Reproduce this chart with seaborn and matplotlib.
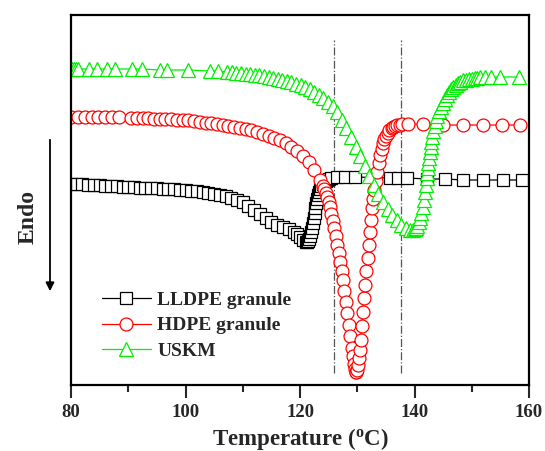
import numpy as np
import pandas as pd
import matplotlib
matplotlib.use("Agg")
import matplotlib.pyplot as plt
import seaborn as sns

# ---------------- data (heat flow, arbitrary units; endo down) ----------------
T_lldpe = [80, 81, 82, 83, 84, 85, 86, 87, 88, 89,
           90, 91, 92, 93, 94, 95, 96, 97, 98, 99,
           100, 101, 102, 103, 104, 105, 106, 107, 108, 109,
           110, 111, 112, 113, 114, 115, 116, 117, 118, 119,
           119.5, 120, 120.5, 121.0, 121.2, 121.4, 121.6, 121.8, 121.95, 122.1,
           122.25, 122.4, 122.55, 122.7, 122.85, 123.0, 123.15, 123.3, 123.5, 123.7,
           123.95, 124.2, 124.5, 124.8, 125.1, 125.5,
           126.5, 127.9, 129.6, 135.8, 137.2, 138.7, 142.2, 145.4, 148.5, 152.0, 155.5, 158.8]
HF_lldpe = [-1.84, -1.84, -1.84, -1.85, -1.85, -1.85, -1.86, -1.86, -1.86, -1.87,
            -1.87, -1.87, -1.88, -1.88, -1.88, -1.88, -1.89, -1.89, -1.89, -1.90,
            -1.90, -1.91, -1.91, -1.92, -1.93, -1.94, -1.95, -1.96, -1.98, -2.00,
            -2.02, -2.06, -2.10, -2.14, -2.18, -2.22, -2.25, -2.27, -2.29, -2.32,
            -2.34, -2.37, -2.40, -2.42, -2.42, -2.41, -2.39, -2.36, -2.32, -2.28,
            -2.23, -2.18, -2.13, -2.08, -2.03, -1.99, -1.95, -1.92, -1.89, -1.86,
            -1.84, -1.82, -1.81, -1.80, -1.79, -1.78,
            -1.77, -1.77, -1.77, -1.78, -1.78, -1.78, -1.79, -1.79, -1.80, -1.80, -1.80, -1.80]

T_hdpe = [80, 81.2, 82.4, 83.6, 84.8, 86, 87.2, 88.4,
          90.5, 91.5, 92.5, 93.5, 94.5, 95.5, 96.5, 97.5, 98.5, 99.5,
          100.5, 101.5, 102.5, 103.5, 104.5, 105.5, 106.5, 107.5, 108.5, 109.5,
          110.5, 111.5, 112.5, 113.5, 114.5, 115.5, 116.5, 117.5, 118.5, 119.5,
          120.5, 121.5, 122.5, 123.5,
          124.0, 124.25, 124.5, 124.75, 125.0, 125.25, 125.5, 125.75, 126.0, 126.25,
          126.5, 126.75, 127.0, 127.25, 127.5, 127.75, 128.0, 128.25, 128.5, 128.75,
          129.0, 129.2, 129.4, 129.55, 129.7, 129.85, 130.0, 130.15, 130.3, 130.45,
          130.6, 130.8, 131.0, 131.2, 131.4, 131.6, 131.8, 132.0, 132.2, 132.4,
          132.6, 132.8, 133.0, 133.25, 133.5, 133.75, 134.0, 134.25, 134.5, 134.75,
          135.0, 135.3, 135.6, 136.0, 136.3, 136.6, 137.0, 137.4, 137.8,
          138.9, 141.5, 145.0, 148.5, 152.0, 155.3, 158.5]
HF_hdpe = [-1.17, -1.17, -1.17, -1.17, -1.17, -1.17, -1.17, -1.17,
           -1.18, -1.18, -1.18, -1.18, -1.19, -1.19, -1.19, -1.19, -1.20, -1.20,
           -1.20, -1.21, -1.22, -1.23, -1.23, -1.24, -1.25, -1.26, -1.27, -1.28,
           -1.29, -1.30, -1.32, -1.34, -1.36, -1.38, -1.40, -1.43, -1.47, -1.51,
           -1.56, -1.62, -1.70, -1.80,
           -1.86, -1.89, -1.93, -1.97, -2.02, -2.07, -2.14, -2.21, -2.28, -2.36,
           -2.45, -2.53, -2.62, -2.71, -2.80, -2.91, -3.02, -3.13, -3.25, -3.36,
           -3.48, -3.56, -3.64, -3.69, -3.72, -3.72, -3.70, -3.65, -3.58, -3.50,
           -3.40, -3.26, -3.12, -2.98, -2.85, -2.71, -2.58, -2.45, -2.32, -2.20,
           -2.08, -1.99, -1.90, -1.81, -1.72, -1.63, -1.55, -1.49, -1.43, -1.39,
           -1.36, -1.33, -1.30, -1.28, -1.27, -1.26, -1.25, -1.245, -1.24,
           -1.24, -1.24, -1.25, -1.25, -1.25, -1.25, -1.25]

T_uskm = [80.1, 80.5, 80.9, 81.3, 83.1, 84.6, 86.3, 87.7, 90.7, 92.4,
          95.5, 96.7, 100.4, 104.3, 105.7,
          107.3, 108.1, 108.9, 109.7, 110.5, 111.3, 112.1, 112.9, 113.7, 114.5,
          115.3, 116.1, 116.9, 117.7, 118.5, 119.3, 120.1, 120.9, 121.7, 122.5,
          123.3, 124.1, 124.9, 125.7, 126.5, 127.3, 128.1, 128.9, 129.7, 130.5,
          131.3, 132.1, 132.9, 133.7, 134.5, 135.3, 136.1, 136.9, 137.7, 138.5,
          139.3,
          139.7, 140.0, 140.25, 140.5, 140.75, 141.0, 141.2, 141.4, 141.6, 141.8,
          141.95, 142.1, 142.2, 142.3, 142.4, 142.5, 142.65, 142.8, 142.95, 143.1,
          143.3, 143.5, 143.75, 144.0, 144.3, 144.6, 144.95, 145.3, 145.65, 146.0,
          146.4, 146.8, 147.2, 147.6, 148.0, 148.5, 149.0, 149.5, 150.0, 150.5,
          151.0, 151.5,
          152.3, 153.3, 155.0, 158.2]
HF_uskm = [-0.69, -0.69, -0.69, -0.69, -0.69, -0.69, -0.69, -0.69, -0.69, -0.69,
           -0.70, -0.70, -0.70, -0.71, -0.71,
           -0.72, -0.72, -0.73, -0.73, -0.74, -0.74, -0.75, -0.75, -0.76, -0.77,
           -0.78, -0.79, -0.80, -0.81, -0.82, -0.84, -0.85, -0.87, -0.89, -0.92,
           -0.95, -0.98, -1.02, -1.06, -1.12, -1.20, -1.28, -1.37, -1.47, -1.56,
           -1.66, -1.76, -1.85, -1.94, -2.02, -2.09, -2.15, -2.20, -2.25, -2.28,
           -2.30,
           -2.30, -2.29, -2.28, -2.26, -2.22, -2.18, -2.13, -2.07, -2.00, -1.92,
           -1.85, -1.78, -1.73, -1.68, -1.63, -1.58, -1.52, -1.47, -1.42, -1.37,
           -1.31, -1.26, -1.21, -1.16, -1.11, -1.07, -1.03, -0.99, -0.95, -0.92,
           -0.89, -0.87, -0.85, -0.83, -0.815, -0.80, -0.795, -0.79, -0.785, -0.78,
           -0.775, -0.77,
           -0.77, -0.77, -0.77, -0.77]

series_names = ["LLDPE granule", "HDPE granule", "USKM"]
series_colors = ["#000000", "#ff0000", "#00ee00"]
series_markers = ["s", "o", "^"]
peak_lines = [126.0, 137.7]
x_ticks = [80, 100, 120, 140, 160]

# ---------------- style ----------------
sns.set_style("white")
plt.rcParams["font.family"] = ["Liberation Serif", "DejaVu Serif"]
plt.rcParams["font.weight"] = "bold"
plt.rcParams["mathtext.fontset"] = "custom"
plt.rcParams["mathtext.rm"] = "Liberation Serif:bold"
plt.rcParams["mathtext.bf"] = "Liberation Serif:bold"
plt.rcParams["mathtext.default"] = "bf"

fig = plt.figure(figsize=(5.45, 4.51), dpi=100)
ax = fig.add_axes([71 / 545, 1 - 385 / 451, (529 - 71) / 545, (385 - 15) / 451])

marker_sizes = [8.3, 9.3, 10.0]
data = [(T_lldpe, HF_lldpe), (T_hdpe, HF_hdpe), (T_uskm, HF_uskm)]
for (tt, hf), name, col, mk, ms in zip(data, series_names, series_colors, series_markers, marker_sizes):
    df = pd.DataFrame({"T": tt, "HF": hf})
    sns.lineplot(data=df, x="T", y="HF", ax=ax, estimator=None, sort=False,
                 color=col, linewidth=0.9, marker=mk, markersize=ms,
                 markerfacecolor="white", markeredgecolor=col, markeredgewidth=0.9,
                 label=name)

ax.vlines(peak_lines, -3.73, -0.40, colors="#555555", linestyles="-.", linewidth=0.9, zorder=0)

ax.set_xlim(80, 160)
ax.set_ylim(-3.85, -0.15)
ax.set_xticks(x_ticks)
ax.set_xticks([90, 110, 130, 150], minor=True)
ax.set_yticks([])
ax.tick_params(axis="x", which="major", direction="out", length=9, width=1.5,
               labelsize=13.5, pad=5, bottom=True, top=False)
ax.tick_params(axis="x", which="minor", direction="out", length=5, width=1.5,
               bottom=True, top=False)
for lab in ax.get_xticklabels():
    lab.set_fontweight("bold")
for sp in ax.spines.values():
    sp.set_linewidth(1.6)
    sp.set_color("black")

ax.set_xlabel(r"Temperature ($^{\mathbf{o}}$C)", fontsize=16.5, fontweight="bold", labelpad=3)
ax.set_ylabel("")

leg = ax.legend(loc="upper left", bbox_to_anchor=(102 / 545, 1 - 291 / 451),
                bbox_transform=fig.transFigure, frameon=False, fontsize=14,
                handlelength=2.5, handletextpad=0.35, labelspacing=0.42,
                borderpad=0, borderaxespad=0)
for t in leg.get_texts():
    t.set_fontweight("bold")

fig.text(28 / 545, 1 - 217 / 451, "Endo", rotation=90, ha="center", va="center",
         fontsize=17, fontweight="bold")
fig.add_artist(matplotlib.patches.FancyArrowPatch(
    (50 / 545, 1 - 137 / 451), (50 / 545, 1 - 294 / 451), transform=fig.transFigure,
    arrowstyle="-|>,head_length=5,head_width=2.5", color="black", linewidth=1.3,
    mutation_scale=1))

fig.savefig("out.png", dpi=100)
